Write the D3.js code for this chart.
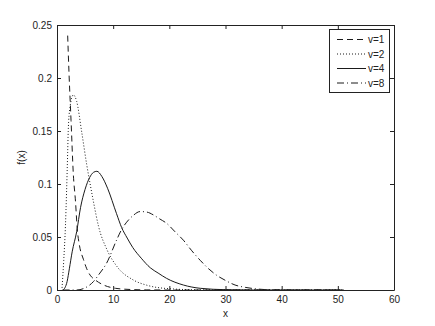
<!DOCTYPE html>
<html>
<head>
<meta charset="utf-8">
<script src="https://cdn.jsdelivr.net/npm/d3@7"></script>
<style>
  body { margin: 0; background: #fff; }
  text { font-family: "Liberation Sans", Arial, sans-serif; font-size: 10px; fill: #222; }
</style>
</head>
<body>
<svg width="435" height="326"></svg>
<script>
// values
var x1 = [1.9, 2.15, 2.5, 2.9, 3.3, 3.6, 4.0, 4.7, 5.3, 5.9, 6.8, 8.3, 10.4, 13, 16, 20, 30, 40, 51];
var y1 = [0.240, 0.203, 0.160, 0.110, 0.083, 0.058, 0.042, 0.029, 0.020, 0.014, 0.0095, 0.0047, 0.0016, 0.0005, 0.0001, 0, 0, 0, 0];

var x2 = [0.9, 1.2, 1.5, 1.7, 1.9, 2.0, 2.3, 2.9, 3.5, 4.4, 5.3, 5.9, 6.5, 7.4, 8.9, 10.7, 13.6, 16, 20, 25, 35, 51];
var y2 = [0.002, 0.028, 0.060, 0.092, 0.130, 0.150, 0.172, 0.184, 0.178, 0.149, 0.118, 0.100, 0.083, 0.060, 0.038, 0.022, 0.0094, 0.0045, 0.0012, 0.0002, 0, 0];

var x4 = [1.0, 1.4, 1.8, 2.2, 2.7, 3.5, 4.2, 5.0, 5.8, 6.5, 7.1, 8.0, 9.0, 10.6, 11.5, 12.5, 13.5, 15, 16.6, 18, 19.5, 22.5, 25.5, 30, 35, 51];
var y4 = [0, 0.002, 0.008, 0.020, 0.036, 0.055, 0.078, 0.095, 0.106, 0.111, 0.112, 0.107, 0.096, 0.072, 0.059, 0.049, 0.040, 0.030, 0.021, 0.016, 0.011, 0.0047, 0.0016, 0.0003, 0, 0];

var x8 = [1.0, 3.5, 5.0, 6.5, 7.5, 8.8, 10.6, 11.5, 12.4, 13.5, 14.8, 16, 17.1, 18.3, 19.5, 21, 22.5, 24, 25.5, 27, 28.4, 30, 31.7, 33.5, 35.2, 37, 40, 51];
var y8 = [0, 0, 0.002, 0.008, 0.015, 0.025, 0.047, 0.057, 0.064, 0.070, 0.074, 0.0735, 0.071, 0.067, 0.063, 0.055, 0.047, 0.037, 0.028, 0.020, 0.014, 0.009, 0.0047, 0.0025, 0.0012, 0.0004, 0, 0];

var seriesNames = ["v=1", "v=2", "v=4", "v=8"];
var xTicks = [0, 10, 20, 30, 40, 50, 60];
var yTicks = [0, 0.05, 0.1, 0.15, 0.2, 0.25];

var series = [
    { name: seriesNames[0], xs: x1, ys: y1, dash: "6,4" },
    { name: seriesNames[1], xs: x2, ys: y2, dash: "1,2" },
    { name: seriesNames[2], xs: x4, ys: y4, dash: null },
    { name: seriesNames[3], xs: x8, ys: y8, dash: "7,3,1,3" }
];

var plotLeft = 57, plotRight = 394, plotTop = 25, plotBottom = 290;

var svg = d3.select("svg");

var x = d3.scaleLinear().domain([0, 60]).range([plotLeft, plotRight]);
var y = d3.scaleLinear().domain([0, 0.25]).range([plotBottom, plotTop]);

svg.append("clipPath").attr("id", "clip")
    .append("rect")
    .attr("x", plotLeft).attr("y", plotTop)
    .attr("width", plotRight - plotLeft).attr("height", plotBottom - plotTop);

// curves
var line = d3.line()
    .x(function (d) { return x(d[0]); })
    .y(function (d) { return y(d[1]); })
    .curve(d3.curveMonotoneX);

var g = svg.append("g").attr("clip-path", "url(#clip)");
series.forEach(function (s) {
    var pts = s.xs.map(function (v, i) { return [v, s.ys[i]]; });
    g.append("path")
        .attr("d", line(pts))
        .attr("fill", "none")
        .attr("stroke", "#1a1a1a")
        .attr("stroke-width", 1)
        .attr("stroke-dasharray", s.dash);
});

// axes, ticks inward on all four sides
var tk = 4;
svg.append("g").attr("transform", "translate(0," + plotBottom + ")")
    .call(d3.axisBottom(x).tickValues(xTicks).tickSizeInner(-tk).tickSizeOuter(0).tickPadding(6));
svg.append("g").attr("transform", "translate(0," + plotTop + ")")
    .call(d3.axisTop(x).tickValues(xTicks).tickSizeInner(-tk).tickSizeOuter(0).tickFormat(""));
svg.append("g").attr("transform", "translate(" + plotLeft + ",0)")
    .call(d3.axisLeft(y).tickValues(yTicks).tickSizeInner(-tk).tickSizeOuter(0).tickPadding(5)
        .tickFormat(function (d) { return String(+d.toFixed(2)); }));
svg.append("g").attr("transform", "translate(" + plotRight + ",0)")
    .call(d3.axisRight(y).tickValues(yTicks).tickSizeInner(-tk).tickSizeOuter(0).tickFormat(""));

svg.selectAll(".domain").attr("stroke", "#222");
svg.selectAll(".tick line").attr("stroke", "#222");
svg.selectAll(".tick text").style("font-family", "Liberation Sans, Arial, sans-serif")
    .style("font-size", "10px").attr("fill", "#222");

// axis labels
svg.append("text")
    .attr("x", (plotLeft + plotRight) / 2).attr("y", 317)
    .attr("text-anchor", "middle")
    .text("x");
svg.append("text")
    .attr("transform", "translate(25," + ((plotTop + plotBottom) / 2) + ") rotate(-90)")
    .attr("text-anchor", "middle")
    .text("f(x)");

// legend
var lg = svg.append("g");
lg.append("rect")
    .attr("x", 329.5).attr("y", 29.5)
    .attr("width", 60).attr("height", 63)
    .attr("fill", "#fff").attr("stroke", "#222");
series.forEach(function (s, i) {
    var ly = 39.5 + i * 14.5;
    lg.append("line")
        .attr("x1", 337).attr("x2", 366)
        .attr("y1", ly).attr("y2", ly)
        .attr("stroke", "#1a1a1a")
        .attr("stroke-dasharray", s.dash);
    lg.append("text")
        .attr("x", 368).attr("y", ly + 3.5)
        .text(s.name);
});
</script>
</body>
</html>
